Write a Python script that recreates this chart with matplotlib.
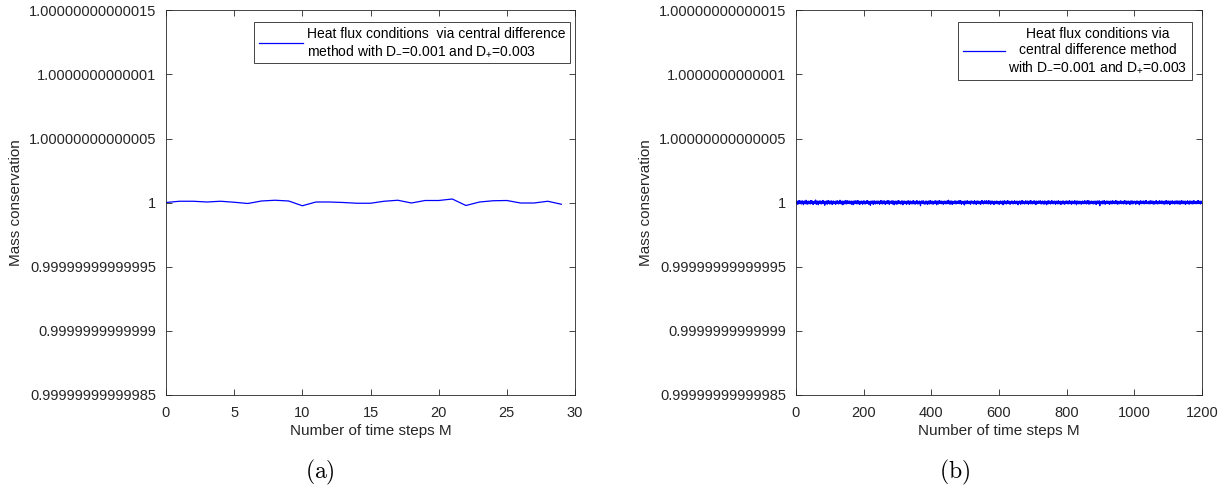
import numpy as np
import matplotlib
matplotlib.use("Agg")
import matplotlib.pyplot as plt

plt.rcParams['font.family'] = ['Liberation Sans', 'DejaVu Sans']
plt.rcParams['mathtext.fontset'] = 'custom'
plt.rcParams['mathtext.rm'] = 'Liberation Sans'
plt.rcParams['mathtext.it'] = 'Liberation Sans:italic'

# ---- data ----
# (a) deviations from 1, in units of 1e-16, for time steps 0..29
steps_a = list(range(30))
dev_a = [0, 8, 8, 5, 8, 3, -8, 10, 18, 10, -26, 5, 5, 0, -5, -5, 8, 18, -3, 16,
         16, 26, -23, 5, 13, 16, -3, -3, 8, -13]
UNIT_A = 1e-16

# (b) deviations from 1, in units of 1.5e-16, for time steps 0..1200
UNIT_B = 1.5e-16
dev_b_text = """
3 -5 8 -2 6 -9 1 4 -7 10 -3 2 -6 7 -1 5 -8 3 9 -4 0 6 -11 2 -3 8 -5 4 1 -7 12 -2 5 -9 3 -1 7 -6 2 -4
6 -3 -8 4 11 -2 -5 9 1 -7 3 -10 5 2 -4 8 -1 -6 13 -3 4 -9 6 0 -2 7 -12 3 5 -5 1 9 -7 2 -3 6 -8 4 -1 10
-4 2 7 -6 3 -15 5 1 -3 8 -2 6 -9 4 -1 11 -5 2 7 -8 3 -2 5 -6 9 -1 4 -10 2 6 -3 8 -7 1 5 -4 3 -9 7 0
2 -6 9 -3 4 -1 -8 6 3 -5 12 -2 1 -7 5 -4 8 -11 3 6 -2 -9 4 7 -3 1 -6 10 -1 5 -8 2 9 -4 -2 6 -5 3 8 -7
5 -1 -4 7 -9 3 6 -2 1 -12 4 8 -3 -6 2 9 -5 3 -1 7 -8 4 -2 11 -6 1 5 -3 -10 6 2 -7 4 8 -1 -5 3 -9 6 1
-3 9 -6 2 4 -8 1 -2 7 -5 3 10 -4 -1 6 -9 2 5 -7 3 -14 4 8 -2 1 -6 7 -3 5 -10 2 9 -1 -4 6 -8 3 1 -5 7
4 -7 2 8 -3 -1 5 -9 6 2 -4 11 -6 3 -2 7 -8 1 4 -5 9 -3 -1 6 -10 2 5 -4 8 -7 3 -2 10 -6 1 4 -9 7 -3 2
-1 6 -5 3 9 -8 2 -4 7 -2 -11 5 1 8 -6 3 -3 6 -9 4 2 -7 10 -1 -5 3 7 -4 1 -8 5 2 -6 9 -3 4 -12 6 1 -2
8 -4 3 -7 1 6 -2 -9 5 2 -5 9 -1 -3 7 -10 4 2 -6 8 -3 5 -1 -8 6 3 -4 11 -7 2 -2 6 -9 4 1 -5 7 -3 9 -6
2 -8 5 1 -3 7 -6 4 -16 3 6 -2 8 -5 1 -4 9 -7 3 2 -1 -9 6 4 -3 8 -6 1 5 -10 3 7 -2 -4 6 -8 2 10 -5 1
-6 4 7 -2 3 -9 1 5 -7 8 -3 2 -5 9 -1 4 -11 6 2 -4 7 -8 3 -2 10 -5 1 6 -3 -7 4 8 -6 2 -1 5 -9 3 7 -4
1 -3 6 -8 4 2 -5 9 -1 -7 3 12 -4 5 -2 -9 7 1 -6 3 8 -3 -10 4 6 -1 2 -7 5 -4 9 -2 3 -8 6 1 -5 4 -3 7
-5 8 -2 3 -6 10 -4 1 7 -9 2 -3 5 -1 6 -8 4 2 -13 7 -2 3 -5 8 1 -6 4 9 -3 -1 5 -7 2 6 -4 3 -9 8 -1 2
7 -2 -4 5 1 -8 6 -3 9 -6 2 4 -1 -10 3 7 -5 2 8 -3 -7 5 1 -2 6 -9 4 3 -6 10 -1 -4 7 2 -8 5 -3 1 9 -5
-2 5 -7 9 -1 3 -4 6 -8 2 11 -3 -5 4 1 -9 7 -2 3 -6 8 -1 -4 5 2 -10 6 3 -7 1 4 -3 8 -5 2 -1 6 -8 3 5
3 -9 1 6 -4 8 -2 -6 4 2 -3 7 -11 5 -1 3 9 -7 2 -4 6 1 -8 3 -2 10 -5 4 -3 7 -6 2 1 -9 5 3 -2 8 -4 -1
6 -1 -8 3 5 -3 9 -5 2 -7 4 1 -2 8 -6 3 -12 5 2 -4 7 -1 -3 6 -9 4 2 -5 11 -2 -7 3 6 -4 1 -8 5 2 -3 9
-7 2 4 -5 8 -1 3 -9 6 1 -4 7 -2 -6 10 -3 2 5 -8 4 -1 6 -5 3 9 -7 1 -2 4 -10 7 3 -6 2 5 -3 8 -4 -1 6
2 -4 9 -6 1 5 -8 3 -2 7 -5 4 1 -9 6 -3 8 -1 -7 3 2 -11 5 7 -4 1 -6 9 -2 3 -5 6 -8 4 1 -3 10 -6 2 -1
5 -6 2 8 -3 -1 6 -9 4 2 -5 7 -2 3 -8 1 9 -4 5 -7 3 -2 6 -10 2 4 -1 8 -6 3 -4 7 1 -9 5 -2 3 -7 8 -3
-1 7 -4 3 -8 5 2 -6 10 -3 1 -5 6 -2 -9 4 8 -1 3 -7 5 -3 2 9 -6 1 -4 7 -2 -12 6 3 -5 8 -1 4 -8 2 6 -4
4 -2 6 -9 3 1 -5 8 -3 -7 5 2 -1 9 -6 3 -4 7 -2 -8 6 1 -3 10 -5 2 -9 4 7 -1 -6 3 5 -4 8 -2 1 -7 3 6
-8 3 1 -4 7 -2 5 -10 2 6 -3 8 -5 1 4 -7 9 -2 -17 5 3 -1 6 -4 2 -8 7 1 -3 5 -6 10 -2 3 -9 4 2 -5 7 -1
3 -5 8 -1 -6 4 2 -9 6 -3 1 7 -4 5 -8 2 9 -2 -5 3 6 -7 1 4 -3 11 -6 2 -1 8 -4 -9 5 3 -2 6 -7 1 4 -3
9 -4 1 -7 5 3 -2 6 -8 2 -1 10 -5 4 -3 7 -9 1 6 -2 3 -6 8 -4 -1 5 2 -10 7 -3 4 1 -6 9 -2 3 -8 5 -1 6
-3 6 -1 4 -9 2 7 -5 3 -2 8 -6 1 5 -4 -11 6 3 -2 9 -7 4 1 -5 6 -3 2 8 -1 -8 4 -2 7 -5 3 10 -4 -6 2 5
1 -7 4 6 -3 2 -8 9 -1 -5 3 7 -4 2 -6 8 -2 5 -9 3 1 -4 6 -2 -7 10 -3 4 1 -8 5 -1 3 -6 9 -4 2 6 -5 -2
7 -3 -6 2 8 -5 4 1 -9 6 -2 3 -7 5 11 -4 1 -8 6 2 -3 7 -5 4 -1 -10 8 3 -6 2 5 -4 9 -2 -7 4 1 -3 6 -8
-4 8 2 -6 3 -1 9 -5 4 -8 1 6 -3 7 -2 -9 5 3 -6 10 -4 2 -1 7 -7 3 6 -5 2 -3 8 -10 4 1 -2 5 -6 9 3 -1
5 -2 -9 7 1 -4 3 8 -6 2 -3 6 -1 -8 4 9 -5 2 7 -3 -2 5 -7 3 1 -6 8 -4 2 10 -1 -5 6 -3 4 -8 2 7 -4 1
3
"""
dev_b = [int(v) for v in dev_b_text.split()]
steps_b = list(range(len(dev_b)))

ytick_vals = [-15e-14, -10e-14, -5e-14, 0.0, 5e-14, 10e-14, 15e-14]
ytick_labels = ["0.99999999999985", "0.9999999999999", "0.99999999999995", "1",
                "1.00000000000005", "1.0000000000001", "1.00000000000015"]
xticks_a = [0, 5, 10, 15, 20, 25, 30]
xticks_b = [0, 200, 400, 600, 800, 1000, 1200]

label_a = "Heat flux conditions  via central difference\nmethod with D$_{-}$=0.001 and D$_{+}$=0.003"
label_b = "Heat flux conditions via\ncentral difference method\nwith D$_{-}$=0.001 and D$_{+}$=0.003"

ya = 1.0 + np.array(dev_a) * UNIT_A
yb = 1.0 + np.array(dev_b) * UNIT_B

gray = (0.15, 0.15, 0.15)
fs = 10.5

fig = plt.figure(figsize=(12.3, 4.96), dpi=100)
ax1 = fig.add_axes([166/1230, 101/496, 409/1230, 385/496])
ax2 = fig.add_axes([796/1230, 101/496, 406/1230, 385/496])

def style(ax, xt, xlim):
    ax.set_xlim(*xlim)
    ax.set_ylim(1.0 - 15e-14, 1.0 + 15e-14)
    ax.set_yticks([1.0 + v for v in ytick_vals])
    ax.set_yticklabels(ytick_labels)
    ax.set_xticks(xt)
    ax.set_xticklabels([str(v) for v in xt])
    ax.tick_params(direction='in', top=True, right=True, length=4, width=0.6,
                   colors=gray, labelsize=fs)
    ax.tick_params(axis='y', pad=7)
    ax.tick_params(axis='x', pad=8)
    for s in ax.spines.values():
        s.set_color(gray)
        s.set_linewidth(0.6)
    ax.set_xlabel("Number of time steps M", fontsize=fs + 0.5, color=gray, labelpad=3)
    ax.set_ylabel("Mass conservation", fontsize=fs + 0.5, color=gray, labelpad=4)

ax1.plot(steps_a, ya, color=(0, 0, 1), lw=0.9, label=label_a)
style(ax1, xticks_a, (0, 30))
ax2.plot(steps_b, yb, color=(0, 0, 1), lw=0.9, label=label_b)
style(ax2, xticks_b, (0, 1200))

leg1 = ax1.legend(loc='upper right', bbox_to_anchor=(0.988, 0.969), borderaxespad=0,
                  fancybox=False, framealpha=1, edgecolor=gray, fontsize=10,
                  handlelength=3.2, handletextpad=0.25, borderpad=0.35, labelspacing=0.2)
leg1.get_frame().set_linewidth(0.6)
leg2 = ax2.legend(loc='upper right', bbox_to_anchor=(0.975, 0.969), borderaxespad=0,
                  fancybox=False, framealpha=1, edgecolor=gray, fontsize=10,
                  handlelength=3.0, handletextpad=0.25, borderpad=0.35, labelspacing=0.2)
leg2.get_frame().set_linewidth(0.6)
for t in leg2.get_texts():
    t.set_multialignment('center')

fig.text(320/1230, 1 - 472/496, r"$\mathrm{(a)}$", ha='center', va='center',
         fontsize=17, math_fontfamily='cm')
fig.text(955/1230, 1 - 472/496, r"$\mathrm{(b)}$", ha='center', va='center',
         fontsize=17, math_fontfamily='cm')

fig.savefig("out.png", dpi=100)
